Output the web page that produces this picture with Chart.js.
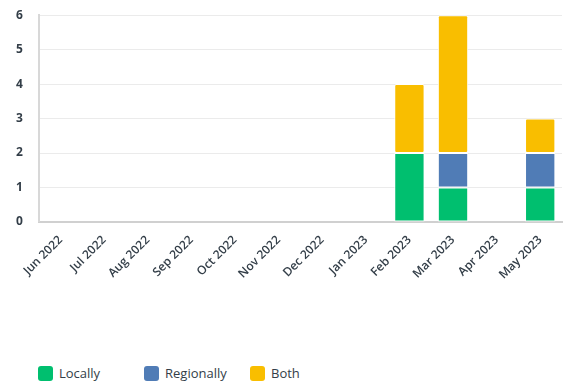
<!DOCTYPE html>
<html>
<head>
<meta charset="utf-8">
<script src="https://cdn.jsdelivr.net/npm/chart.js@4"></script>
<style>
  body { margin: 0; background: #fff; font-family: "Open Sans", sans-serif; }
  #wrap { position: relative; width: 564px; height: 293px; margin-top: -8px; }
  #legend { display: flex; padding-left: 38px; margin-top: 79px; }
  .item { width: 106px; display: flex; align-items: center; font-size: 13px; color: #333e48; }
  .box { width: 15px; height: 15px; border-radius: 3px; margin-right: 6px; }
</style>
</head>
<body>
<div id="wrap"><canvas id="myChart"></canvas></div>
<div id="legend"></div>
<script>
const months = ['Jun 2022', 'Jul 2022', 'Aug 2022', 'Sep 2022', 'Oct 2022', 'Nov 2022',
    'Dec 2022', 'Jan 2023', 'Feb 2023', 'Mar 2023', 'Apr 2023', 'May 2023'];
const locally = [0, 0, 0, 0, 0, 0, 0, 0, 2, 1, 0, 1];
const regionally = [0, 0, 0, 0, 0, 0, 0, 0, 0, 1, 0, 1];
const both = [0, 0, 0, 0, 0, 0, 0, 0, 2, 4, 0, 1];
const seriesNames = ['Locally', 'Regionally', 'Both'];
const colors = ['#00bf6f', '#507cb6', '#f9be00'];

const sets = [locally, regionally, both].map((d, i) => ({
    label: seriesNames[i],
    data: d,
    backgroundColor: colors[i],
    borderColor: '#ffffff',
    borderWidth: 1,
    borderRadius: 2,
    borderSkipped: false,
    categoryPercentage: 0.8,
    barPercentage: 0.87
}));

const ctx = document.getElementById('myChart').getContext('2d');
const myChart = new Chart(ctx, {
    type: 'bar',
    data: { labels: months, datasets: sets },
    options: {
        responsive: true,
        maintainAspectRatio: false,
        animation: false,
        layout: { padding: { top: 6, right: 2, left: 0 } },
        plugins: {
            legend: { display: false },
            tooltip: { enabled: false }
        },
        scales: {
            x: {
                stacked: true,
                grid: { display: false },
                border: { color: '#d0d0d0', width: 2 },
                ticks: {
                    color: '#333e48',
                    font: { family: 'Open Sans', size: 12, weight: '600' },
                    minRotation: 45,
                    maxRotation: 45,
                    autoSkip: false
                }
            },
            y: {
                stacked: true,
                min: 0,
                max: 6,
                grid: { color: '#ebebeb', lineWidth: 1, drawTicks: false },
                border: { color: '#d8d8d8', width: 2 },
                ticks: {
                    stepSize: 1,
                    padding: 16,
                    color: '#333e48',
                    font: { family: 'Open Sans', size: 12, weight: 'bold' }
                }
            }
        }
    }
});

const legend = document.getElementById('legend');
seriesNames.forEach((name, i) => {
    const item = document.createElement('div');
    item.className = 'item';
    item.innerHTML = '<span class="box" style="background:' + colors[i] + '"></span>' + name;
    legend.appendChild(item);
});
</script>
</body>
</html>
